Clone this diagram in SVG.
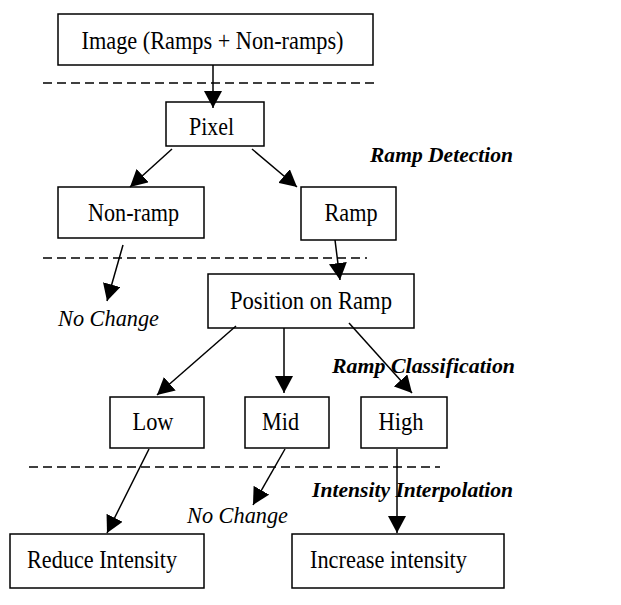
<svg xmlns="http://www.w3.org/2000/svg" width="621" height="605" viewBox="0 0 621 605">
<style>
.box{fill:#fff;stroke:#000;stroke-width:1.5}
.t{font-family:"Liberation Serif","Times New Roman",serif;font-size:25px;fill:#000;text-anchor:middle}
.it{font-family:"Liberation Serif","Times New Roman",serif;font-size:23px;font-style:italic;fill:#000}
.bi{font-family:"Liberation Serif","Times New Roman",serif;font-size:22px;font-style:italic;font-weight:bold;fill:#000}
.c{stroke:#000;stroke-width:1.5;fill:none;marker-end:url(#ah)}
.d{stroke:#000;stroke-width:1.5;stroke-dasharray:9,5;fill:none}
</style>
<defs>
<marker id="ah" markerUnits="userSpaceOnUse" markerWidth="18" markerHeight="18" viewBox="0 0 18 18" refX="17" refY="9" orient="auto">
<path d="M0,0 L17,9 L0,18 Z" fill="#000"/>
</marker>
</defs>
<g id="separators">
<line class="d" x1="43" y1="83" x2="378" y2="83"/>
<line class="d" x1="43" y1="258" x2="367" y2="258"/>
<line class="d" x1="29" y1="467" x2="440" y2="467"/>
</g>
<g id="n-image"><rect class="box" x="58" y="14" width="315" height="51"/><text class="t" x="212.5" y="49" textLength="262" lengthAdjust="spacingAndGlyphs">Image (Ramps + Non-ramps)</text></g>
<g id="n-pixel"><rect class="box" x="166" y="102" width="98" height="44"/><text class="t" x="211.5" y="135" textLength="45" lengthAdjust="spacingAndGlyphs">Pixel</text></g>
<g id="n-nonramp"><rect class="box" x="58" y="187" width="146" height="51"/><text class="t" x="133.5" y="221" textLength="91" lengthAdjust="spacingAndGlyphs">Non-ramp</text></g>
<g id="n-ramp"><rect class="box" x="301" y="187" width="95" height="53"/><text class="t" x="351" y="221" textLength="53" lengthAdjust="spacingAndGlyphs">Ramp</text></g>
<g id="n-position"><rect class="box" x="208" y="274" width="206" height="54"/><text class="t" x="311" y="309" textLength="162" lengthAdjust="spacingAndGlyphs">Position on Ramp</text></g>
<g id="n-low"><rect class="box" x="110" y="397" width="94" height="51"/><text class="t" x="153" y="430" textLength="41" lengthAdjust="spacingAndGlyphs">Low</text></g>
<g id="n-mid"><rect class="box" x="245" y="397" width="84" height="51"/><text class="t" x="280.5" y="430" textLength="37" lengthAdjust="spacingAndGlyphs">Mid</text></g>
<g id="n-high"><rect class="box" x="361" y="397" width="86" height="51"/><text class="t" x="401" y="430" textLength="45" lengthAdjust="spacingAndGlyphs">High</text></g>
<g id="n-reduce"><rect class="box" x="10" y="534" width="194" height="54"/><text class="t" x="102" y="568" textLength="150" lengthAdjust="spacingAndGlyphs">Reduce Intensity</text></g>
<g id="n-increase"><rect class="box" x="292" y="534" width="212" height="54"/><text class="t" x="388.5" y="568" textLength="157" lengthAdjust="spacingAndGlyphs">Increase intensity</text></g>
<g id="n-nochange1"><text class="it" x="58" y="326" textLength="101" lengthAdjust="spacingAndGlyphs">No Change</text></g>
<g id="n-nochange2"><text class="it" x="187" y="523" textLength="101" lengthAdjust="spacingAndGlyphs">No Change</text></g>
<g id="labels">
<text class="bi" x="370" y="162" textLength="143" lengthAdjust="spacingAndGlyphs">Ramp Detection</text>
<text class="bi" x="332" y="373" textLength="183" lengthAdjust="spacingAndGlyphs">Ramp Classification</text>
<text class="bi" x="312" y="497" textLength="201" lengthAdjust="spacingAndGlyphs">Intensity Interpolation</text>
</g>
<g id="connectors">
<line class="c" x1="213" y1="65" x2="213" y2="108"/>
<line class="c" x1="172" y1="149" x2="130" y2="187"/>
<line class="c" x1="252" y1="149" x2="297" y2="187"/>
<line class="c" x1="123" y1="245" x2="107" y2="301"/>
<line class="c" x1="335" y1="240" x2="340" y2="280"/>
<line class="c" x1="236" y1="326" x2="157" y2="395"/>
<line class="c" x1="284" y1="328" x2="284" y2="393"/>
<line class="c" x1="349" y1="323" x2="412" y2="393"/>
<line class="c" x1="149" y1="449" x2="107" y2="533"/>
<line class="c" x1="285" y1="449" x2="253" y2="505"/>
<line class="c" x1="397" y1="449" x2="397" y2="533"/>
</g>
</svg>
